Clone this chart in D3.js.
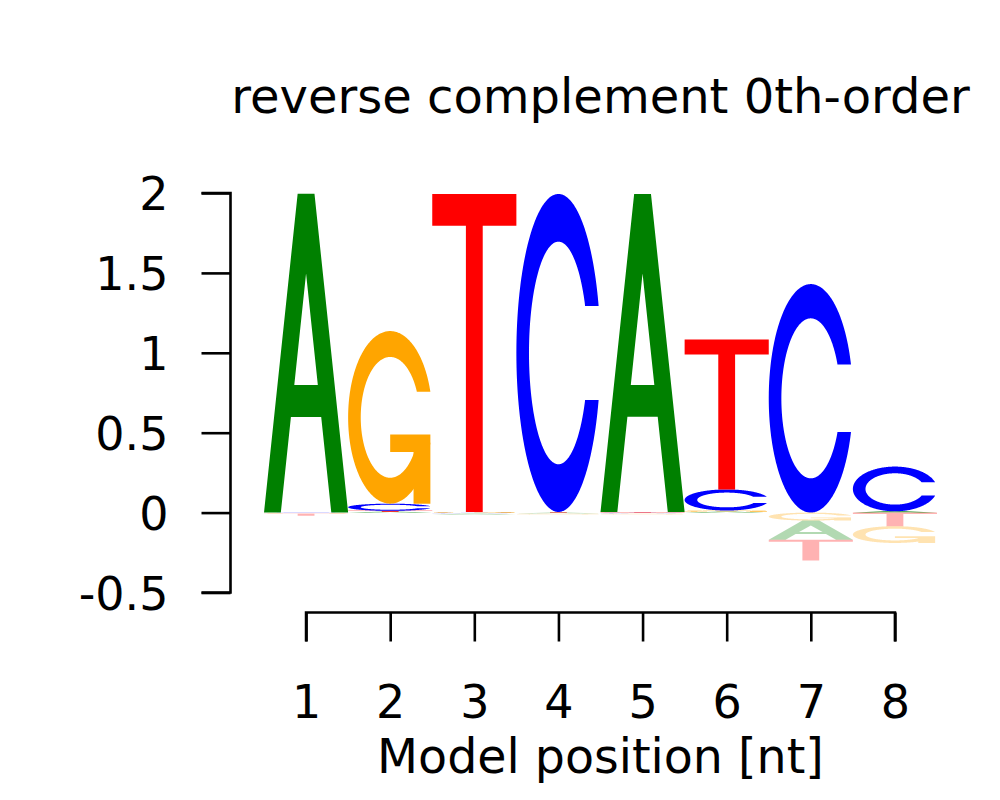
<!DOCTYPE html>
<html><head><meta charset="utf-8">
<script src="https://cdn.jsdelivr.net/npm/d3@7"></script>
<style>body{margin:0;background:#fff} text{font-family:"DejaVu Sans";fill:#000}</style>
</head><body><svg id="c" width="1000" height="800"></svg>
<script>
// ---- data ----
const positions = [1, 2, 3, 4, 5, 6, 7, 8];
const letters = ["A", "C", "G", "T"];
const valA = [1.995, 0.005, -0.008, -0.006, 1.99, 0.006, -0.12, 0.008];
const valC = [-0.002, 0.045, -0.006, 1.99, -0.006, 0.132, 1.43, 0.28];
const valG = [-0.004, 1.08, 0.004, -0.006, -0.006, 0.007, -0.05, -0.105];
const valT = [-0.014, 0.006, 1.99, 0.004, 0.003, 0.938, -0.13, -0.085];
const yTicks = [-0.5, 0, 0.5, 1, 1.5, 2];
const yTickLabels = ["-0.5", "0", "0.5", "1", "1.5", "2"];
const xTickLabels = ["1", "2", "3", "4", "5", "6", "7", "8"];
const titleText = "reverse complement 0th-order";
const xTitleText = "Model position [nt]";
const letterColors = ["#008000", "#0000ff", "#ffa500", "#ff0000"];

const values = {A: valA, C: valC, G: valG, T: valT};
const colorOf = {A: letterColors[0], C: letterColors[1], G: letterColors[2], T: letterColors[3]};

const svg = d3.select("#c");
const x = d3.scaleLinear().domain([0.5, 8.5]).range([264, 937]);
const y = d3.scaleLinear().domain([-0.5, 2]).range([592.5, 193]);

// ---- letter glyph polygons (unit square, y up) ----
function cBody() {
  const n = 100;
  const s1 = 0.3 + Math.PI / 2, e1 = Math.PI;
  const a1 = d3.range(n).map(i => s1 + i * (e1 - s1) / (n - 1));
  const a2 = d3.range(n).map(i => Math.PI + i * (0.5 * Math.PI) / (n - 1));
  const xl = [...a1, ...a2].map(a => 0.5 + 0.5 * Math.sin(a));
  const yl = [...a1, ...a2].map(a => 0.5 + 0.5 * Math.cos(a));
  const xo = [...xl, ...xl.slice().reverse()];
  const yo = [...yl, ...yl.slice().reverse().map(v => 1 - v)];
  const maxY = d3.max(a1, a => 0.5 + 0.5 * Math.cos(a));
  let xi1 = a1.map(a => 0.5 + 0.35 * Math.sin(a));
  let yi1 = a1.map(a => 0.5 + 0.35 * Math.cos(a));
  const keep = yi1.map(v => v <= maxY);
  xi1 = xi1.filter((v, i) => keep[i]);
  yi1 = yi1.filter((v, i) => keep[i]);
  yi1[0] = maxY;
  const xi = [...xi1, ...a2.map(a => 0.5 + 0.35 * Math.sin(a))];
  const yi = [...yi1, ...a2.map(a => 0.5 + 0.35 * Math.cos(a))];
  const x1 = [...xi, ...xi.slice().reverse()];
  const y1 = [...yi, ...yi.slice().reverse().map(v => 1 - v)];
  const X = [...xo, ...x1.slice().reverse()];
  const Y = [...yo, ...y1.slice().reverse()];
  return X.map((v, i) => [v, Y[i]]);
}
const cPts = cBody();
const r1 = d3.max(d3.range(100).map(i => 0.3 + Math.PI / 2 + i * (Math.PI / 2 - 0.3) / 99), a => 0.5 + 0.5 * Math.sin(a));
const glyphs = {
  A: [[[0,0],[0.4,1],[0.6,1],[1,0],[0.8,0],[0.68,0.3],[0.32,0.3],[0.2,0]], [[0.36,0.4],[0.5,0.75],[0.64,0.4]]],
  C: [cPts],
  G: [cPts, [[r1,0.4],[0.5,0.4],[0.5,0.3],[r1-0.2,0.3],[r1-0.2,0],[r1,0]]],
  T: [[[0,1],[1,1],[1,0.9],[0.6,0.9],[0.6,0],[0.4,0],[0.4,0.9],[0,0.9]]]
};

// ---- build stacks ----
const marks = [];
positions.forEach((p, i) => {
  const items = letters.map(l => ({l, v: values[l][i]}));
  const pos = items.filter(d => d.v > 0).sort((a, b) => a.v - b.v);
  const neg = items.filter(d => d.v < 0).sort((a, b) => b.v - a.v);
  let base = 0;
  pos.forEach(d => { marks.push({p, l: d.l, y0: base, y1: base + d.v, neg: false}); base += d.v; });
  base = 0;
  neg.forEach(d => { marks.push({p, l: d.l, y0: base + d.v, y1: base, neg: true}); base += d.v; });
});

const gL = svg.append("g");
marks.forEach(m => {
  const g = gL.append("g").attr("opacity", m.neg ? 0.3 : 1);
  const polys = glyphs[m.l];
  const toPath = pts => "M" + pts.map(([u, v]) => x(m.p - 0.5 + u) + "," + y(m.y0 + v * (m.y1 - m.y0))).join("L") + "Z";
  if (m.l === "A") {
    g.append("path").attr("d", polys.map(toPath).join("")).attr("fill", colorOf[m.l]).attr("fill-rule", "evenodd");
  } else {
    polys.forEach(pts => g.append("path").attr("d", toPath(pts)).attr("fill", colorOf[m.l]));
  }
});

// ---- axes ----
const yAxis = d3.axisLeft(y).tickValues(yTicks).tickFormat((d, i) => yTickLabels[i]).tickSize(29).tickPadding(33);
const gy = svg.append("g").attr("transform", "translate(230.5,0)").call(yAxis);
gy.select(".domain").attr("d", `M-29,${y(-0.5)}H0V${y(2)}H-29`);
gy.selectAll("path,line").attr("stroke", "#000").attr("stroke-width", 2.6);
gy.selectAll("text").attr("font-size", 46).attr("font-family", "DejaVu Sans").attr("dy", "0.36em");

const xAxis = d3.axisBottom(x).tickValues(positions).tickFormat((d, i) => xTickLabels[i]).tickSize(29).tickPadding(44);
const gx = svg.append("g").attr("transform", "translate(0,612.5)").call(xAxis);
gx.select(".domain").attr("d", `M${x(1)},29V0H${x(8)}V29`);
gx.selectAll("path,line").attr("stroke", "#000").attr("stroke-width", 2.6);
gx.selectAll("text").attr("font-size", 46).attr("font-family", "DejaVu Sans").attr("dy", "0.71em");

svg.append("text").attr("x", x(4.5)).attr("y", 113).attr("text-anchor", "middle").attr("font-size", 48).text(titleText);
svg.append("text").attr("x", x(4.5)).attr("y", 773).attr("text-anchor", "middle").attr("font-size", 47.5).text(xTitleText);
</script></body></html>
